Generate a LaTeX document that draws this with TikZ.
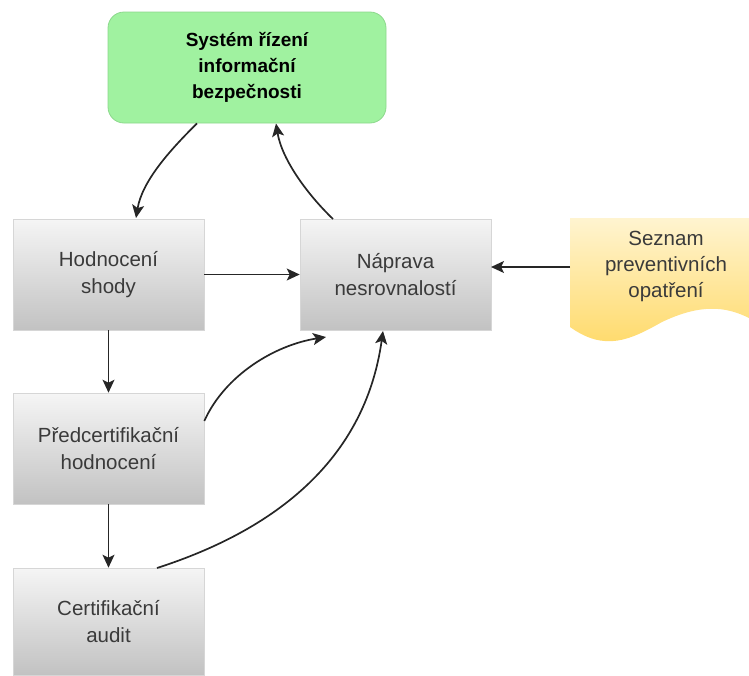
\documentclass[tikz,border=0pt]{standalone}
\usepackage{fontspec}
\setmainfont{Liberation Sans}
\usetikzlibrary{arrows.meta}
\definecolor{grayTop}{HTML}{F5F5F5}
\definecolor{grayBot}{HTML}{C2C2C2}
\definecolor{grayLine}{HTML}{D6D6D6}
\definecolor{grayText}{HTML}{3A3A3A}
\definecolor{greenFill}{HTML}{A0F2A0}
\definecolor{greenLine}{HTML}{8CD88C}
\definecolor{yelTop}{HTML}{FFF4D0}
\definecolor{yelBot}{HTML}{FFD966}
\tikzset{
  stepbox/.style={rectangle, minimum width=191pt, minimum height=111pt,
    top color=grayTop, bottom color=grayBot, draw=grayLine, line width=0.6pt,
    text=grayText, align=center, inner sep=0pt,
    font=\fontsize{20.5}{27}\selectfont},
  sysbox/.style={rectangle, rounded corners=16pt, minimum width=278pt,
    minimum height=111pt, fill=greenFill, draw=greenLine, line width=0.8pt,
    align=center, inner sep=0pt, font=\fontsize{19}{26}\selectfont\bfseries},
  link/.style={line width=1.7pt, draw=black!85,
    -{Stealth[length=13pt,width=12pt,inset=3pt]}},
}
\begin{document}
\begin{tikzpicture}[x=1pt,y=-1pt]
\useasboundingbox (0,0) rectangle (749,675);

% main system box
\node[sysbox] (sys) at (247,67.5) {Systém řízení\\informační\\bezpečnosti};

% process steps
\node[stepbox] (hod) at (108.5,274.5) {Hodnocení\\shody};
\node[stepbox] (nap) at (395.5,274.5) {Náprava\\nesrovnalostí};
\node[stepbox] (pre) at (108.5,448.5) {Předcertifikační\\hodnocení};
\node[stepbox, minimum height=107pt] (cer) at (108.5,621.5) {Certifikační\\audit};

% document shape with wavy bottom edge
\shade[top color=yelTop, bottom color=yelBot]
  (570,218) -- (749,218) -- (749,318)
  .. controls (725,306) and (700,304) .. (662,322)
  .. controls (630,340) and (605,352) .. (570,327) -- cycle;
\node[align=center, text=grayText, font=\fontsize{20.5}{26}\selectfont, inner sep=0pt]
  (sez) at (666,266) {Seznam\\preventivních\\opatření};
\coordinate (sezL) at (570,267);

% connectors
\draw[link] (sys.south -| 197,0) .. controls (168,152) and (142,182) .. (136,218);
\draw[link] (333,219) .. controls (308,195) and (282,160) .. (276,123.5);
\draw[link] (hod.east) -- (nap.west);
\draw[link] (sezL) -- (491,267);
\draw[link] (hod.south) -- (pre.north);
\draw[link] (pre.south) -- (cer.north);
\draw[link] (pre.east |- 0,421) .. controls (225,375) and (275,345) .. (326,337);
\draw[link] (157,568) .. controls (275,530) and (365,460) .. (383,331);
\end{tikzpicture}
\end{document}
